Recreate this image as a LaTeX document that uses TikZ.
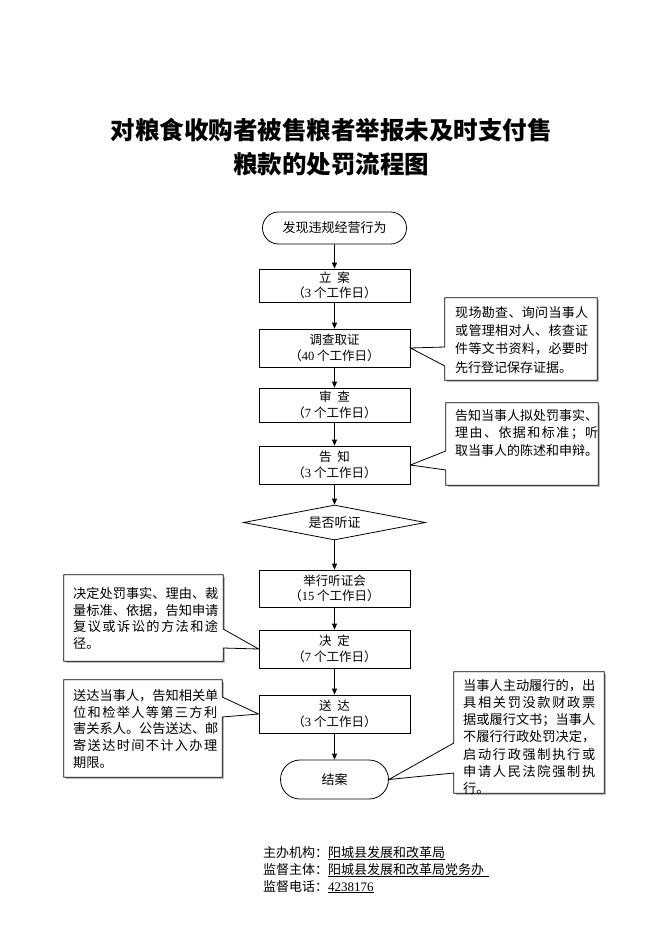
\documentclass[tikz,border=0pt]{standalone}
\usepackage{fontspec}
\setmainfont{Noto Sans CJK SC}
\newfontfamily\lser{Liberation Serif}
\usetikzlibrary{arrows.meta,shapes.geometric,shapes.misc,calc}
\ExplSyntaxOn
\NewDocumentCommand\jl{mm}{\hbox_to_wd:nn{#1}{\tl_map_inline:nn{#2}{##1\hfil}\unskip}}
\ExplSyntaxOff
\newcommand\cW[4]{% callout pointing out of west side: box, offA, offB, tip
  \fill[gray!55] ($(#1.north west)+(2,2)$) rectangle ($(#1.south east)+(2,2)$);
  \draw[co] (#1.north west) -- (#1.north east) -- (#1.south east) -- (#1.south west)
    -- ($(#1.west)+(0,#3)$) -- (#4) -- ($(#1.west)+(0,#2)$) -- cycle;}
\newcommand\cE[4]{% callout pointing out of east side
  \fill[gray!55] ($(#1.north west)+(2,2)$) rectangle ($(#1.south east)+(2,2)$);
  \draw[co] (#1.north west) -- (#1.north east) -- ($(#1.east)+(0,#2)$) -- (#4)
    -- ($(#1.east)+(0,#3)$) -- (#1.south east) -- (#1.south west) -- cycle;}
\begin{document}
\begin{tikzpicture}[x=1pt,y=-1pt,
  box/.style={draw, line width=0.8pt, minimum width=151pt, inner sep=0pt,
    font=\fontsize{12.5}{15.5}\selectfont, align=center},
  term/.style={draw, line width=0.8pt, rounded rectangle, inner sep=0pt,
    font=\fontsize{13}{15}\selectfont},
  note/.style={inner sep=0pt},
  ntext/.style={anchor=north west, inner sep=0pt, align=left},
  co/.style={draw, line width=0.8pt, fill=white, line join=miter},
  arr/.style={-{Triangle[length=6pt,width=5pt]}, line width=0.8pt},
  foot/.style={anchor=base west, inner sep=0pt, font=\fontsize{13}{15}\selectfont},
  ttl/.style={inner sep=0pt, font=\bfseries\fontsize{24.5}{28}\selectfont}]
\fill[white] (0,0) rectangle (662,936);
\useasboundingbox (0,0) rectangle (662,936);

% title
\node[ttl] (t1) at (331,130) {对粮食收购者被售粮者举报未及时支付售};
\node[ttl] (t2) at (331,164) {粮款的处罚流程图};

% main column
\node[term, minimum width=144pt, minimum height=32pt] (st) at (334.5,228) {发现违规经营行为};
\node[box, minimum height=33pt] (la) at (334.5,285.5) {立\hspace{0.45em}案\\（{\lser 3} 个工作日）};
\node[box, minimum height=38pt] (dc) at (334.5,348) {调查取证\\（{\lser 40} 个工作日）};
\node[box, minimum height=34pt] (sc) at (334.5,405) {审\hspace{0.45em}查\\（{\lser 7} 个工作日）};
\node[box, minimum height=38pt] (gz) at (334.5,465) {告\hspace{0.45em}知\\（{\lser 3} 个工作日）};
\node[draw, line width=0.8pt, diamond, aspect=5.2, minimum width=182pt, minimum height=35pt,
  inner sep=0pt, font=\fontsize{13}{15}\selectfont] (sf) at (334.5,522.5) {是否听证};
\node[box, minimum height=37pt] (tz) at (334.5,588.5) {举行听证会\\（{\lser 15} 个工作日）};
\node[box, minimum height=38pt] (jd) at (334.5,649) {决\hspace{0.45em}定\\（{\lser 7} 个工作日）};
\node[box, minimum height=38pt] (sd) at (334.5,714) {送\hspace{0.45em}达\\（{\lser 3} 个工作日）};
\node[term, minimum width=108pt, minimum height=39pt] (ja) at (334.5,779.5) {结案};

\draw[arr] (st) -- (la);
\draw[arr] (la) -- (dc);
\draw[arr] (dc) -- (sc);
\draw[arr] (sc) -- (gz);
\draw[arr] (gz) -- (sf);
\draw[arr] (sf) -- (tz);
\draw[arr] (tz) -- (jd);
\draw[arr] (jd) -- (sd);
\draw[arr] (sd) -- (ja);

% callout boxes
\node[note, minimum width=152pt, minimum height=82pt] (c1) at (521,339) {};
\node[note, minimum width=152pt, minimum height=82pt] (c2) at (522,444) {};
\node[note, minimum width=159pt, minimum height=86pt] (c3) at (143.5,618) {};
\node[note, minimum width=158pt, minimum height=97pt] (c4) at (143,728.5) {};
\node[note, minimum width=150pt, minimum height=121pt] (c5) at (529,732.5) {};

\cW{c1}{8}{27}{dc.east}
\cW{c2}{7}{26}{gz.east}
\cE{c3}{11}{30}{jd.west}
\cE{c4}{-31.5}{-11.5}{sd.west}
\cW{c5}{10.5}{40.5}{ja.east}

% callout texts
\node[ntext, font=\fontsize{13}{18.3}\selectfont] (x1) at (455,306) {%
\jl{133pt}{现场勘查、询问当事人}\\
\jl{133pt}{或管理相对人、核查证}\\
\jl{133pt}{件等文书资料，必要时}\\
先行登记保存证据。};
\node[ntext, font=\fontsize{13}{17.5}\selectfont] (x2) at (455,409) {%
\jl{143pt}{告知当事人拟处罚事实、}\\
\jl{143pt}{理由、依据和标准；听}\\
取当事人的陈述和申辩。};
\node[ntext, font=\fontsize{13.2}{16.7}\selectfont] (x3) at (73,587) {%
\jl{145pt}{决定处罚事实、理由、裁}\\
\jl{145pt}{量标准、依据，告知申请}\\
\jl{145pt}{复议或诉讼的方法和途}\\
径。};
\node[ntext, font=\fontsize{13.2}{16.7}\selectfont] (x4) at (73,689) {%
\jl{144pt}{送达当事人，告知相关单}\\
\jl{144pt}{位和检举人等第三方利}\\
\jl{144pt}{害关系人。公告送达、邮}\\
\jl{144pt}{寄送达时间不计入办理}\\
期限。};
\node[ntext, font=\fontsize{13.2}{17.2}\selectfont] (x5) at (463,679) {%
\jl{132pt}{当事人主动履行的，出}\\
\jl{132pt}{具相关罚没款财政票}\\
\jl{132pt}{据或履行文书；当事人}\\
\jl{132pt}{不履行行政处罚决定，}\\
\jl{132pt}{启动行政强制执行或}\\
\jl{132pt}{申请人民法院强制执}\\
行。};

% footer
\node[foot] (f1) at (263,857) {主办机构：\underline{阳城县发展和改革局}};
\node[foot] (f2) at (263,874) {监督主体：\underline{阳城县发展和改革局党务办\hspace{5pt}}};
\node[foot] (f3) at (263,891) {监督电话：\underline{\lser 4238176}};
\end{tikzpicture}
\end{document}
